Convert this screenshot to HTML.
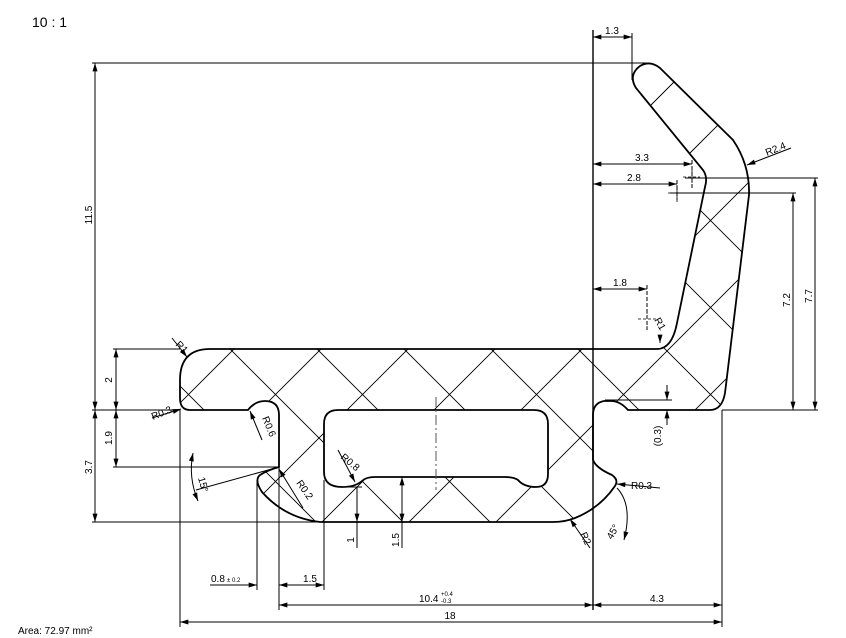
<!DOCTYPE html>
<html><head><meta charset="utf-8"><style>
html,body{margin:0;padding:0;background:#fff;width:846px;height:638px;overflow:hidden;}
svg{display:block;font-family:"Liberation Sans",Arial,sans-serif;}
</style></head><body>
<svg width="846" height="638" viewBox="0 0 846 638" xmlns="http://www.w3.org/2000/svg">
<defs>
<marker id="a" viewBox="0 0 10 6" refX="10" refY="3" markerWidth="9" markerHeight="5" orient="auto-start-reverse" markerUnits="userSpaceOnUse"><path d="M0,0 L10,3 L0,6 Z" fill="#000"/></marker>
<clipPath id="cp"><path clip-rule="evenodd" d="M210,349 L657,349 Q672,349 677,323 L705,187 Q708,177 703,170 L636,88 Q628,75 640,66 Q650,60 660,68 L733,140 Q750,165 749,195 L725,393 Q722,410 710,410 L628,410 Q620,401 611,401 L604,401 Q593,403 593,415 L593,460 Q596,468 612,475 Q619,480 615,486 Q600,508 575,518 Q565,522 553,522 L320,522 Q285,518 262,492 Q254,480 260,475 Q268,470 279,467 L279,415 Q279,401 265,401 Q255,401 248,410 L190,410 Q180,410 180,398 L180,380 Q180,349 210,349 Z M338,410 L534,410 Q548,410 548,424 L548,474 Q548,487 536,487 Q524,487 518,480 Q514,477 505,477 L375,477 Q366,477 362,481 Q355,487 342,487 Q324,487 324,472 L324,424 Q324,410 338,410 Z"/></clipPath>
</defs>
<text x="32" y="27" font-size="14">10 : 1</text>

<g clip-path="url(#cp)" stroke="#000" stroke-width="0.9">
<path d="M170,463 L237,530 M170,376 L324,530 M170,289 L411,530 M170,202 L498,530 M170,115 L585,530 M197,55 L672,530 M284,55 L759,530 M371,55 L760,444 M458,55 L760,357 M545,55 L760,270 M632,55 L760,183 M719,55 L760,96"/>
<path d="M528,55 L170,413 M615,55 L170,500 M702,55 L227,530 M760,84 L314,530 M760,171 L401,530 M760,258 L488,530 M760,345 L575,530 M760,432 L662,530 M760,519 L749,530"/>
</g>
<g clip-path="url(#cp)">
<rect x="620" y="55" width="140" height="120" fill="#fff"/>
<path d="M648,108 L676,80 M688,155 L718,125" stroke="#000" stroke-width="0.9"/>
</g>

<path fill="none" stroke="#000" stroke-width="1.8" d="M210,349 L657,349 Q672,349 677,323 L705,187 Q708,177 703,170 L636,88 Q628,75 640,66 Q650,60 660,68 L733,140 Q750,165 749,195 L725,393 Q722,410 710,410 L628,410 Q620,401 611,401 L604,401 Q593,403 593,415 L593,460 Q596,468 612,475 Q619,480 615,486 Q600,508 575,518 Q565,522 553,522 L320,522 Q285,518 262,492 Q254,480 260,475 Q268,470 279,467 L279,415 Q279,401 265,401 Q255,401 248,410 L190,410 Q180,410 180,398 L180,380 Q180,349 210,349 Z M338,410 L534,410 Q548,410 548,424 L548,474 Q548,487 536,487 Q524,487 518,480 Q514,477 505,477 L375,477 Q366,477 362,481 Q355,487 342,487 Q324,487 324,472 L324,424 Q324,410 338,410 Z"/>

<line x1="436" y1="397" x2="436" y2="490" stroke="#555" stroke-width="1" stroke-dasharray="10,3,2,3"/>

<g stroke="#000" stroke-width="1" fill="none">
<line x1="92" y1="63" x2="647" y2="63"/>
<line x1="92" y1="410" x2="180" y2="410"/>
<line x1="92" y1="522" x2="320" y2="522"/>
<line x1="113" y1="349" x2="180" y2="349"/>
<line x1="113" y1="467" x2="279" y2="467"/>
<line x1="180" y1="410" x2="180" y2="627"/>
<line x1="722" y1="410" x2="722" y2="627"/>
<line x1="593" y1="30" x2="593" y2="610" stroke-width="1.4"/>
<line x1="257" y1="480" x2="257" y2="590"/>
<line x1="279" y1="467" x2="279" y2="610"/>
<line x1="324" y1="480" x2="324" y2="590"/>
<line x1="632" y1="33" x2="632" y2="80"/>
<line x1="692" y1="160" x2="692" y2="190" stroke-dasharray="4,2"/>
<line x1="677" y1="180" x2="677" y2="200" stroke-dasharray="4,2"/>
<line x1="647" y1="285" x2="647" y2="330" stroke-dasharray="4,2"/>
<line x1="685" y1="178" x2="818" y2="178"/>
<line x1="670" y1="193" x2="796" y2="193"/>
<line x1="722" y1="410" x2="818" y2="410"/>
<line x1="605" y1="400" x2="672" y2="400"/>
<line x1="340" y1="487" x2="362" y2="487"/>
<line x1="357" y1="487" x2="357" y2="548"/>
<line x1="402" y1="477" x2="402" y2="548"/>
</g>
<g stroke="#000" stroke-width="1" fill="none" marker-start="url(#a)" marker-end="url(#a)">
<line x1="95" y1="63" x2="95" y2="410"/>
<line x1="95" y1="410" x2="95" y2="522"/>
<line x1="116" y1="349" x2="116" y2="410"/>
<line x1="116" y1="410" x2="116" y2="467"/>
<line x1="180" y1="622" x2="722" y2="622"/>
<line x1="279" y1="605" x2="593" y2="605"/>
<line x1="593" y1="605" x2="722" y2="605"/>
<line x1="279" y1="585" x2="324" y2="585"/>
<line x1="593" y1="37" x2="632" y2="37"/>
<line x1="593" y1="164" x2="692" y2="164"/>
<line x1="593" y1="184" x2="677" y2="184"/>
<line x1="593" y1="289" x2="647" y2="289"/>
<line x1="815" y1="178" x2="815" y2="410"/>
<line x1="793" y1="193" x2="793" y2="410"/>
</g>
<g stroke="#000" stroke-width="1" fill="none">
<line x1="210" y1="585" x2="257" y2="585" marker-end="url(#a)"/>
<line x1="357" y1="510" x2="357" y2="522" marker-end="url(#a)"/>
<line x1="402" y1="500" x2="402" y2="477" marker-end="url(#a)"/>
<line x1="402" y1="500" x2="402" y2="522" marker-end="url(#a)"/>
<line x1="667" y1="385" x2="667" y2="400" marker-end="url(#a)"/>
<line x1="667" y1="425" x2="667" y2="410" marker-end="url(#a)"/>
<line x1="172" y1="338" x2="187" y2="357" marker-end="url(#a)"/>
<line x1="152" y1="418" x2="181" y2="409" marker-end="url(#a)"/>
<line x1="262" y1="440" x2="250" y2="411" marker-end="url(#a)"/>
<line x1="303" y1="508" x2="279" y2="469" marker-end="url(#a)"/>
<line x1="338" y1="450" x2="355" y2="482" marker-end="url(#a)"/>
<line x1="660" y1="488" x2="617" y2="484" marker-end="url(#a)"/>
<line x1="590" y1="548" x2="570" y2="519" marker-end="url(#a)"/>
<line x1="791" y1="148" x2="747" y2="165" marker-end="url(#a)"/>
<line x1="660" y1="335" x2="660" y2="343" marker-end="url(#a)"/>
<line x1="196" y1="490" x2="279" y2="467"/>
<path d="M193,453 Q188,477 198,501" marker-start="url(#a)" marker-end="url(#a)"/>
<path d="M617,488 Q633,505 624,540" marker-end="url(#a)"/>
</g>
<g stroke="#000" stroke-width="0.8" stroke-dasharray="3,2">
<line x1="683" y1="177" x2="700" y2="177"/><line x1="692" y1="170" x2="692" y2="187"/>
<line x1="668" y1="193" x2="686" y2="193"/><line x1="677" y1="185" x2="677" y2="202"/>
<line x1="638" y1="319" x2="656" y2="319"/><line x1="647" y1="311" x2="647" y2="328"/>
</g>

<g font-size="10" fill="#000">
<text x="612" y="34" text-anchor="middle">1.3</text>
<text x="642" y="161" text-anchor="middle">3.3</text>
<text x="634" y="181" text-anchor="middle">2.8</text>
<text x="620" y="286" text-anchor="middle">1.8</text>
<text x="450" y="619" text-anchor="middle">18</text>
<text x="657" y="602" text-anchor="middle">4.3</text>
<text x="419" y="602">10.4</text>
<text x="441" y="596" font-size="6">+0.4</text>
<text x="441" y="603" font-size="6">-0.3</text>
<text x="211" y="582">0.8</text>
<text x="227" y="582" font-size="6">± 0.2</text>
<text x="310" y="582" text-anchor="middle">1.5</text>
<text transform="translate(92,215) rotate(-90)" text-anchor="middle">11.5</text>
<text transform="translate(92,467) rotate(-90)" text-anchor="middle">3.7</text>
<text transform="translate(112,380) rotate(-90)" text-anchor="middle">2</text>
<text transform="translate(112,438) rotate(-90)" text-anchor="middle">1.9</text>
<text transform="translate(812,296) rotate(-90)" text-anchor="middle">7.7</text>
<text transform="translate(790,300) rotate(-90)" text-anchor="middle">7.2</text>
<text transform="translate(661,436) rotate(-90)" text-anchor="middle">(0.3)</text>
<text transform="translate(354,540) rotate(-90)" text-anchor="middle">1</text>
<text transform="translate(399,540) rotate(-90)" text-anchor="middle">1.5</text>
<text transform="translate(175,345) rotate(45)">R1</text>
<text transform="translate(153,420) rotate(-22)">R0.3</text>
<text transform="translate(262,418) rotate(68)">R0.6</text>
<text transform="translate(296,483) rotate(55)">R0.2</text>
<text transform="translate(340,458) rotate(40)">R0.8</text>
<text transform="translate(198,478) rotate(75)">15°</text>
<text x="631" y="489">R0.3</text>
<text transform="translate(580,534) rotate(65)">R2</text>
<text transform="translate(612,540) rotate(-60)">45°</text>
<text transform="translate(767,156) rotate(-22)">R2.4</text>
<text transform="translate(654,320) rotate(60)">R1</text>
<text x="18" y="634" font-size="10">Area: 72.97 mm²</text>
</g>
</svg>
</body></html>
